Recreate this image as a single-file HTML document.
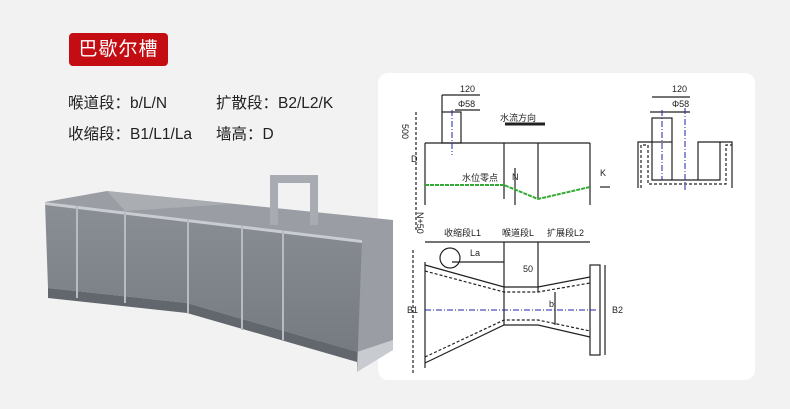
<!DOCTYPE html>
<html><head><meta charset="utf-8"><style>
body{margin:0;width:790px;height:409px;background:#f2f2f2;font-family:"Liberation Sans","Noto Sans CJK SC",sans-serif;position:relative;overflow:hidden}
.badge{position:absolute;left:69px;top:33px;width:99px;height:33px;background:#c40d12;border-radius:4px;color:#fff;font-size:19px;line-height:33px;text-align:center;letter-spacing:1px}
.t{position:absolute;font-size:15.5px;color:#222}
.card{position:absolute;left:378px;top:73px;width:377px;height:307px;background:#fff;border-radius:10px}
svg{position:absolute;left:0;top:0}
</style></head><body>
<div class="badge">巴歇尔槽</div>
<div class="t" style="left:68px;top:91px">喉道段：b/L/N</div>
<div class="t" style="left:216px;top:91px">扩散段：B2/L2/K</div>
<div class="t" style="left:68px;top:122px">收缩段：B1/L1/La</div>
<div class="t" style="left:216px;top:122px">墙高：D</div>
<div class="card"></div>
<svg width="790" height="409" viewBox="0 0 790 409">
<defs><linearGradient id="g" x1="0" y1="0" x2="0" y2="1"><stop offset="0" stop-color="#8a8e95"/><stop offset="1" stop-color="#73777e"/></linearGradient></defs>
<polygon points="45,202 107,191 393,220 393,350 357,360" fill="#9a9ea4"/>
<polygon points="270,175 318,175 318,225 310,225 310,183 278,183 278,225 270,225" fill="#a8acb2"/>
<polygon points="357,352 393,340 393,350 357,372" fill="#c8cbcf"/>
<polygon points="45,202 362,240 357,373 357,352 187,303 48,288" fill="url(#g)"/>
<polygon points="48,288 187,303 357,352 357,362 187,313 48,298" fill="#62666d"/>
<polygon points="45,202 362,240 362,243 45,205" fill="#c9ccd0"/>
<g stroke="#b8bbbf" stroke-width="2"><line x1="77" y1="206" x2="77" y2="298"/><line x1="125" y1="211" x2="125" y2="303"/><line x1="188" y1="219" x2="188" y2="313"/><line x1="242" y1="226" x2="242" y2="330"/><line x1="283" y1="231" x2="283" y2="340"/></g>
<polygon points="107,191 230,204 125,211" fill="#b5b8bc" opacity=".6"/>
<g stroke="#222" stroke-width="1.2" fill="none">
<polyline points="425,143 590,143"/><line x1="425" y1="143" x2="425" y2="205"/><line x1="504" y1="143" x2="504" y2="199"/><line x1="538" y1="143" x2="538" y2="199"/><line x1="590" y1="143" x2="590" y2="205"/>
<rect x="442" y="112" width="19" height="31"/>
<line x1="416" y1="112" x2="416" y2="232" stroke-dasharray="3,2"/>
<line x1="442" y1="95" x2="442" y2="112"/><line x1="480" y1="95" x2="442" y2="95"/><line x1="455" y1="110" x2="480" y2="110"/>
<line x1="505" y1="124" x2="545" y2="124" stroke-width="3"/>
<line x1="600" y1="187" x2="610" y2="187"/>
<line x1="515" y1="168" x2="515" y2="205"/>
<line x1="425" y1="242" x2="590" y2="242"/>
<line x1="425" y1="262" x2="425" y2="368"/><line x1="413" y1="250" x2="413" y2="375" stroke-dasharray="3,2"/>
<polyline points="425,265 504,287 538,287 590,277"/><polyline points="425,271 504,292 538,292 590,283" stroke-dasharray="3,2"/>
<polyline points="425,363 504,325 538,325 590,337"/><polyline points="425,357 504,320 538,320 590,331" stroke-dasharray="3,2"/>
<line x1="504" y1="242" x2="504" y2="325"/><line x1="538" y1="242" x2="538" y2="292"/>
<rect x="590" y="265" width="10" height="90"/>
<line x1="605" y1="265" x2="605" y2="355"/>
<circle cx="450" cy="258" r="10"/><line x1="452" y1="262" x2="504" y2="262"/>
<line x1="555" y1="292" x2="555" y2="325"/>
<polyline points="638,188 638,142 652,142 652,180 720,180 720,142 732,142 732,188"/>
<polyline points="672,142 672,180"/><polyline points="698,180 698,142 720,142"/>
<polyline points="641,188 641,145 648,145 648,184 726,184 726,145 732,145" stroke-dasharray="3,2"/>
<rect x="652" y="118" width="20" height="24"/>
<line x1="652" y1="97" x2="690" y2="97"/><line x1="650" y1="112" x2="690" y2="112"/>
</g>
<polyline points="425,185 504,185 538,199 590,187" stroke="#3a3" stroke-width="2" fill="none" stroke-dasharray="4,1"/>
<g stroke="#22a" stroke-dasharray="6,2,1,2" fill="none"><line x1="452" y1="110" x2="452" y2="155"/><line x1="425" y1="310" x2="598" y2="310"/><line x1="685" y1="108" x2="685" y2="190"/><line x1="662" y1="110" x2="662" y2="180"/></g>
<g font-family="Liberation Sans,Noto Sans CJK SC,sans-serif" font-size="9" fill="#222">
<text x="460" y="92">120</text><text x="458" y="107">Φ58</text>
<text x="500" y="121">水流方向</text><text x="462" y="181">水位零点</text>
<text x="444" y="236">收缩段L1</text><text x="502" y="236">喉道段L</text><text x="547" y="236">扩展段L2</text>
<text x="470" y="256">La</text>
<text x="672" y="92">120</text><text x="672" y="107">Φ58</text>
<text x="410" y="140" transform="rotate(90 414 128)">500</text>
<text x="411" y="162">D</text>
<text x="408" y="215" transform="rotate(90 414 218)">N+50</text>
<text x="512" y="180">N</text><text x="600" y="176">K</text>
<text x="407" y="313">B1</text><text x="612" y="313">B2</text>
<text x="523" y="272">50</text><text x="549" y="307">b</text>
</g>
</svg>
</body></html>
